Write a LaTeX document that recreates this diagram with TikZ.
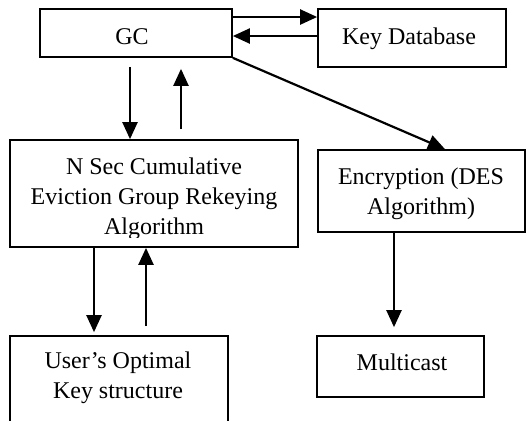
\documentclass[tikz,border=0pt]{standalone}
\usepackage{fontspec}
\setmainfont{Liberation Serif}
\usetikzlibrary{arrows.meta,fit,calc}
\begin{document}
\begin{tikzpicture}[x=0.5pt,y=-0.5pt,
  box/.style={draw, line width=0.85pt, inner sep=0pt},
  txt/.style={align=center, font=\fontsize{12}{15}\selectfont, inner sep=0pt},
  arr/.style={line width=1.1pt, -{Triangle[length=8.5pt,width=7.5pt]}}]
\useasboundingbox (0,0) rectangle (526,420);

% boxes
\node[box, fit={(40,9)(232,57)}] (gc) {};
\node[box, fit={(318,9)(506,67)}] (kdb) {};
\node[box, fit={(10,140)(298,247)}] (nsec) {};
\node[box, fit={(318,150)(525,232)}] (enc) {};
\node[box, fit={(10,336)(228,424)}] (user) {};
\node[box, fit={(317,336)(484,397)}] (mc) {};

% labels
\node[txt, anchor=base] (gct) at (132,44) {GC};
\node[txt, anchor=base] (kdbt) at (409,44) {Key Database};
\begin{scope}
  \clip (10,140) rectangle (298,237);
  \node[txt] (nsect) at (154,199) {N Sec Cumulative\\Eviction Group Rekeying\\Algorithm};
\end{scope}
\node[txt] (enct) at (421,194) {Encryption (DES\\Algorithm)};
\node[txt] (usert) at (118,378) {User's Optimal\\Key structure};
\node[txt, anchor=base] (mct) at (402,370) {Multicast};

% connectors
\draw[arr] (gc.east |- 0,17) -- (kdb.west |- 0,17);
\draw[arr] (kdb.west |- 0,36) -- (gc.east |- 0,36);
\draw[arr] (gc.south east) -- (445,0 |- enc.north);
\draw[arr] ($(130,0 |- gc.south)+(0,9)$) -- (130,0 |- nsec.north);
\draw[arr] ($(181,0 |- nsec.north)+(0,-10)$) -- ($(181,0 |- gc.south)+(0,11)$);
\draw[arr] (94,0 |- nsec.south) -- ($(94,0 |- user.north)+(0,-3)$);
\draw[arr] ($(146,0 |- user.north)+(0,-9)$) -- (146,0 |- nsec.south);
\draw[arr] (394,0 |- enc.south) -- ($(394,0 |- mc.north)+(0,-8)$);
\end{tikzpicture}
\end{document}
